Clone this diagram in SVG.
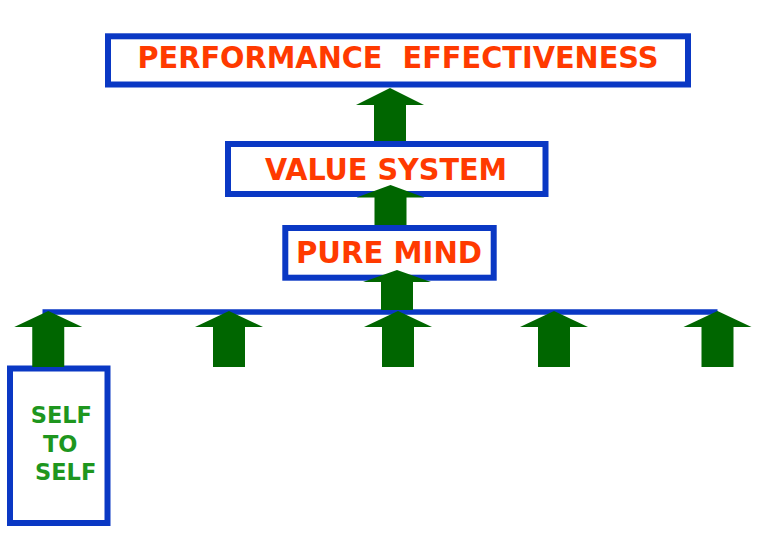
<svg xmlns="http://www.w3.org/2000/svg" xmlns:xlink="http://www.w3.org/1999/xlink" width="780" height="540" viewBox="0 0 780 540">
<style>
.box{fill:#ffffff;stroke:#0a38c4;stroke-width:6}
.arrow{fill:#006600}
.lbl{font-family:"DejaVu Sans","Liberation Sans",sans-serif;font-weight:bold;fill:#ff3a00;white-space:pre}
.self{font-family:"DejaVu Sans","Liberation Sans",sans-serif;font-weight:bold;fill:#1e961e;font-size:22.5px}
.bar{stroke:#0a38c4;stroke-width:5.5;fill:none}
</style>
<defs>
<polygon id="rowArrow" points="0,311 34,327 16,327 16,367 -16,367 -16,327 -34,327"/>
</defs>
<rect width="780" height="540" fill="#ffffff"/>
<g id="performance-effectiveness">
<rect class="box" x="108" y="36.3" width="580" height="48.2"/>
<text class="lbl" x="137.5" y="67.5" font-size="29.5" textLength="521" lengthAdjust="spacingAndGlyphs" xml:space="preserve">PERFORMANCE  EFFECTIVENESS</text>
</g>
<g id="value-system">
<rect class="box" x="228" y="144" width="317.5" height="50"/>
<text class="lbl" x="265" y="180" font-size="30" textLength="242" lengthAdjust="spacingAndGlyphs">VALUE SYSTEM</text>
</g>
<g id="pure-mind">
<rect class="box" x="285.3" y="228" width="208.4" height="49.7"/>
<text class="lbl" x="296" y="263.3" font-size="29.5" textLength="186" lengthAdjust="spacingAndGlyphs">PURE MIND</text>
</g>
<g id="self-to-self">
<rect class="box" x="10" y="368.5" width="97.5" height="154.5"/>
<text class="self" x="30.7" y="423">SELF</text>
<text class="self" x="43" y="452">TO</text>
<text class="self" x="35" y="480">SELF</text>
</g>
<g id="connectors">
<line class="bar" x1="42.5" y1="312" x2="717.5" y2="312"/>
<polygon class="arrow" points="390,88 424,105 406,105 406,141 374,141 374,105 356,105"/>
<polygon class="arrow" points="390.5,185 424.5,197.5 406.5,197.5 406.5,225 374.5,225 374.5,197.5 356.5,197.5"/>
<polygon class="arrow" points="397,270 431,282 413,282 413,310 381,310 381,282 363,282"/>
<use class="arrow" xlink:href="#rowArrow" transform="translate(48.25,0)"/>
<use class="arrow" xlink:href="#rowArrow" transform="translate(229,0)"/>
<use class="arrow" xlink:href="#rowArrow" transform="translate(398,0)"/>
<use class="arrow" xlink:href="#rowArrow" transform="translate(554,0)"/>
<use class="arrow" xlink:href="#rowArrow" transform="translate(717.5,0)"/>
</g>
</svg>
